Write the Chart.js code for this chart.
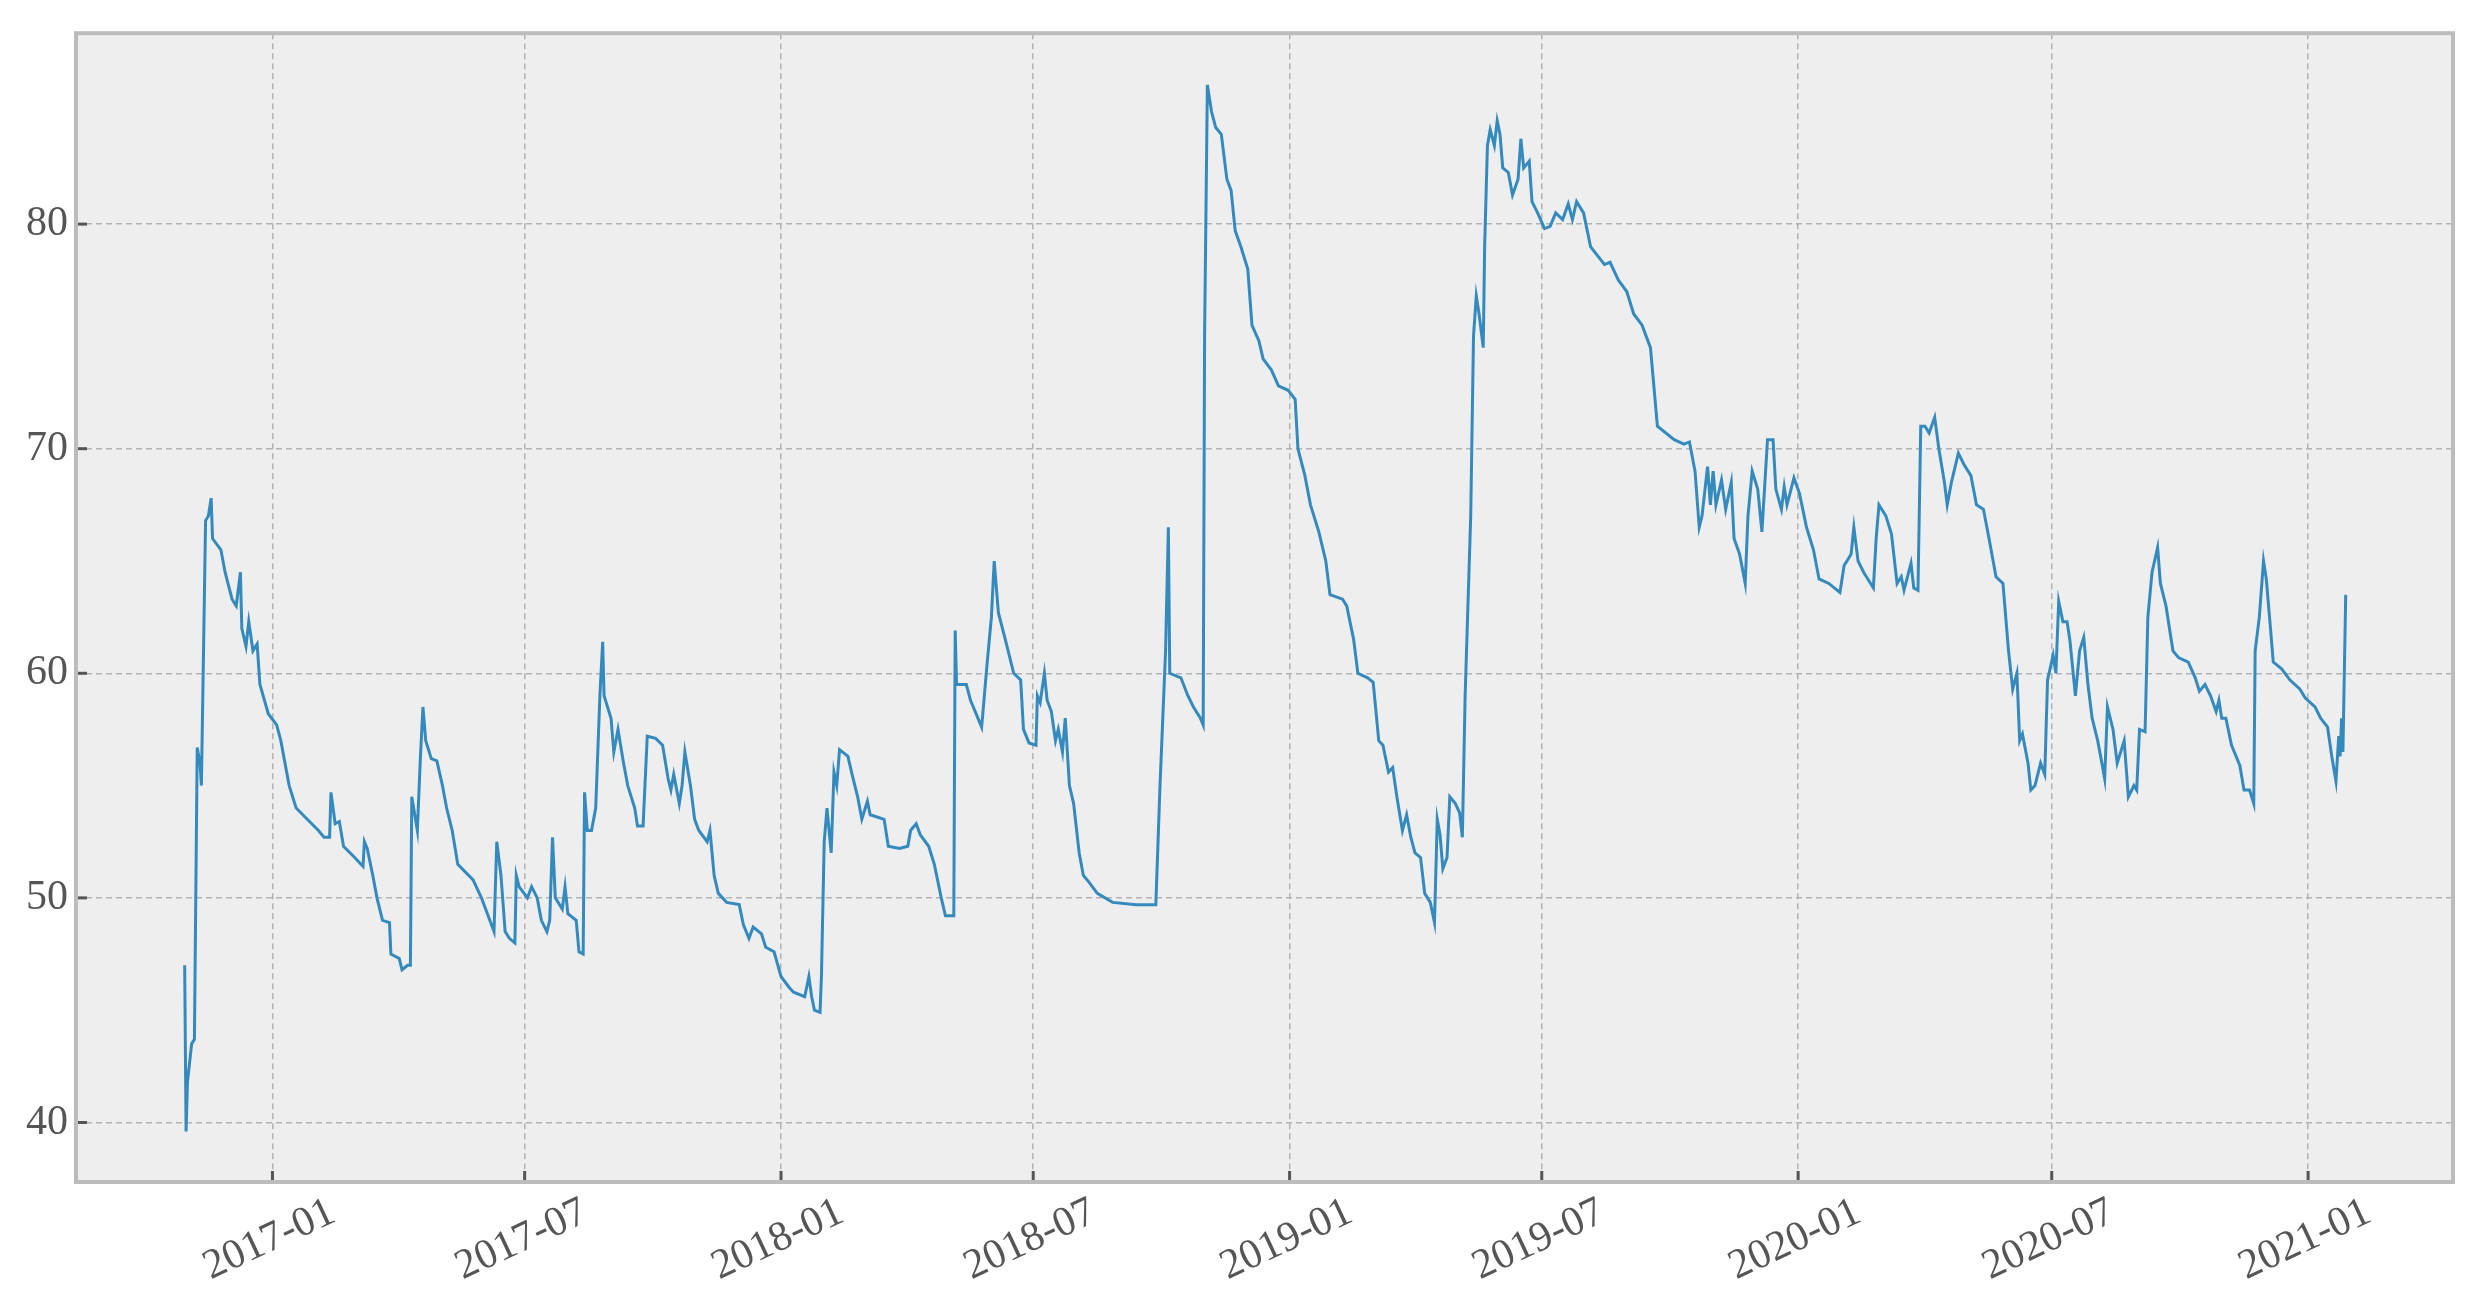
<!DOCTYPE html>
<html>
<head>
<meta charset="utf-8">
<script src="https://cdn.jsdelivr.net/npm/chart.js@4/dist/chart.umd.min.js"></script>
<style>
  html, body { margin: 0; padding: 0; background: #fff; }
  #wrap { width: 2475px; height: 1301px; }
</style>
</head>
<body>
<div id="wrap"><canvas id="chart" width="2475" height="1301"></canvas></div>
<script>
// series start date, then day offsets from it and the values
const startDate = '2016-10-30';
const days = [0,1,2,5,7,9,11,12,15,17,19,20,26,29,34,37,40,41,44,46,49,52,54,60,66,69,75,80,88,96,100,104,105,108,111,114,122,128,129,131,135,138,142,147,148,154,156,160,162,163,167,169,171,173,177,181,185,188,192,196,207,213,219,222,224,227,230,233,237,238,240,246,249,253,256,260,262,264,266,271,273,275,281,283,286,287,289,292,295,298,300,301,306,308,311,315,318,323,325,329,332,338,343,347,349,351,355,357,359,363,366,369,375,377,380,383,389,398,401,405,408,414,417,423,428,434,437,445,448,450,452,456,457,459,461,464,466,468,470,476,479,483,486,490,492,502,505,513,519,521,525,528,534,538,543,546,552,553,554,561,564,572,576,579,581,584,589,595,600,602,606,611,612,614,617,619,622,625,627,630,632,635,638,642,645,649,655,666,683,697,700,704,706,707,715,720,724,729,731,732,734,737,740,744,748,751,754,758,763,766,771,774,780,785,792,797,799,804,808,814,819,822,831,834,839,842,849,853,857,860,864,867,870,874,877,880,883,887,890,894,897,899,901,903,906,908,912,915,917,919,923,925,927,929,932,933,935,937,940,942,944,946,950,953,957,959,961,965,967,971,976,980,984,989,993,996,999,1004,1009,1014,1019,1023,1029,1035,1040,1046,1052,1057,1069,1076,1080,1084,1087,1089,1093,1095,1097,1099,1103,1106,1110,1112,1116,1120,1122,1125,1129,1132,1136,1140,1142,1146,1148,1150,1155,1159,1164,1169,1173,1180,1188,1191,1196,1198,1201,1205,1208,1212,1214,1216,1221,1225,1229,1232,1234,1239,1241,1244,1246,1249,1252,1256,1259,1263,1265,1268,1273,1277,1282,1286,1291,1295,1300,1305,1309,1312,1315,1317,1319,1323,1325,1328,1332,1335,1337,1341,1343,1345,1348,1351,1353,1357,1360,1363,1366,1369,1373,1376,1378,1380,1384,1387,1392,1395,1399,1401,1403,1407,1409,1412,1416,1418,1422,1427,1431,1438,1443,1446,1450,1454,1458,1460,1462,1465,1469,1475,1478,1482,1485,1486,1489,1492,1494,1497,1499,1505,1511,1518,1522,1529,1533,1538,1541,1544,1546,1547,1548,1549,1551];
const values = [47,39.6,41.8,43.5,43.7,56.7,56,55,66.8,67,67.8,66,65.5,64.5,63.3,63,64.5,62,61.2,62.3,61,61.3,59.5,58.2,57.7,57,55,54,53.5,53,52.7,52.7,54.7,53.3,53.4,52.3,51.8,51.4,52.5,52.2,51,50,49,48.9,47.5,47.3,46.8,47,47,54.5,53,56,58.5,57,56.2,56.1,55,54,53,51.5,50.8,50,49,48.5,52.5,51,48.5,48.2,48,51,50.5,50,50.5,50,49,48.5,49,52.7,50,49.5,50.5,49.3,49,47.6,47.5,54.7,53,53,54,59,61.4,59,58,56.5,57.5,56,55,54,53.2,53.2,57.2,57.1,56.8,55.3,54.8,55.5,54.2,55,56.5,55,53.5,53,52.5,53,51,50.2,49.8,49.7,48.8,48.2,48.7,48.4,47.8,47.6,46.5,46,45.8,45.6,46.5,45.6,45,44.9,46.5,52.5,54,52,55.6,55,56.6,56.3,55.5,54.5,53.5,54.3,53.7,53.5,52.3,52.2,52.3,53,53.3,52.8,52.3,51.5,50,49.2,49.2,61.9,59.5,59.5,58.8,57.6,60.5,62.5,65,62.7,61.5,60,59.7,57.5,56.9,56.8,59,58.7,60,58.8,58.3,57,57.5,56.5,58,55,54.2,52,51,50.7,50.2,49.8,49.7,49.7,55,61,66.5,60,59.8,59,58.5,58,57.7,75,86.2,85,84.3,84,82,81.5,79.7,79,78,75.5,74.8,74,73.5,72.8,72.6,72.2,70,68.8,67.5,66.3,65,63.5,63.3,63,61.5,60,59.8,59.6,57,56.8,55.6,55.8,54.5,53,53.7,52.7,52,51.8,50.2,49.8,48.9,53.5,52.8,51.3,51.8,54.5,54.2,53.8,52.7,59,67,75,76.8,76,74.5,79,83.5,84.2,83.5,84.6,84,82.5,82.3,81.3,82,83.8,82.5,82.8,81,80.5,79.8,79.9,80.5,80.2,80.9,80.2,81,80.5,79,78.6,78.2,78.3,77.5,77,76,75.5,74.5,71,70.4,70.2,70.3,69,66.5,67,69.2,67.5,69,67.5,68.6,67.3,68.5,66,65.3,64,67,69,68.2,66.3,70.4,70.4,68.2,67.3,68.3,67.5,68.7,68,66.5,65.5,64.2,64,63.6,64.8,65.3,66.5,65,64.5,64.2,63.8,66,67.5,67,66.2,64,64.3,63.7,64.9,63.8,63.7,71,71,70.7,71.4,70,68.5,67.5,68.5,69.8,69.3,68.8,67.5,67.3,66,64.3,64,61,59.3,60,57,57.3,56,54.8,55,56,55.5,59.7,60.8,60,63.2,62.3,62.3,61.5,59,61,61.6,59.5,58,57,56,55.3,58.5,57.5,56,57,54.5,55,54.8,57.5,57.4,62.5,64.5,65.6,64,63,61,60.7,60.5,59.8,59.2,59.5,59,58.3,58.8,58,58,56.8,55.9,54.8,54.8,54.2,61,62.5,65,64.2,62,60.5,60.2,59.7,59.3,58.9,58.5,58,57.6,56.3,55.2,57.2,56.3,58,56.5,63.5];
const tickDates = ['2017-01','2017-07','2018-01','2018-07','2019-01','2019-07','2020-01','2020-07','2021-01'];
const yTicks = [40,50,60,70,80];

const DAY = 86400000;
const t0 = Date.parse(startDate + 'T00:00:00Z');
const points = days.map((d, i) => ({ x: t0 + d * DAY, y: values[i] }));
const tickMs = tickDates.map(s => Date.parse(s + '-01T00:00:00Z'));

const fontFamily = "Liberation Serif";
const fontSize = 42;

// background, frame, inward tick marks and centred rotated date labels
const plotDeco = {
  id: 'plotDeco',
  beforeDraw(chart) {
    const { ctx, chartArea: a } = chart;
    ctx.save();
    ctx.fillStyle = '#eeeeee';
    ctx.fillRect(a.left, a.top, a.width, a.height);
    ctx.restore();
  },
  afterDraw(chart) {
    const { ctx, chartArea: a, scales } = chart;
    ctx.save();
    ctx.strokeStyle = '#555';
    ctx.lineWidth = 3;
    tickMs.forEach(v => {
      const x = scales.x.getPixelForValue(v);
      ctx.beginPath(); ctx.moveTo(x, a.bottom); ctx.lineTo(x, a.bottom - 11); ctx.stroke();
    });
    yTicks.forEach(v => {
      const y = scales.y.getPixelForValue(v);
      ctx.beginPath(); ctx.moveTo(a.left, y); ctx.lineTo(a.left + 11, y); ctx.stroke();
    });
    ctx.strokeStyle = '#bcbcbc';
    ctx.lineWidth = 4;
    ctx.strokeRect(a.left, a.top, a.width, a.height);

    ctx.fillStyle = '#555';
    ctx.font = fontSize + 'px "' + fontFamily + '", serif';
    ctx.textAlign = 'center';
    ctx.textBaseline = 'middle';
    tickMs.forEach((v, i) => {
      const x = scales.x.getPixelForValue(v);
      ctx.save();
      ctx.translate(x - 3, a.bottom + 58);
      ctx.rotate(-25 * Math.PI / 180);
      ctx.fillText(tickDates[i], 0, 0);
      ctx.restore();
    });
    ctx.restore();
  }
};

new Chart(document.getElementById('chart'), {
  type: 'line',
  data: {
    datasets: [{
      data: points,
      borderColor: '#348ABD',
      borderWidth: 3,
      pointRadius: 0,
      tension: 0,
      fill: false
    }]
  },
  options: {
    responsive: false,
    animation: false,
    parsing: false,
    layout: { padding: { top: 24, right: 22, left: 0, bottom: 0 } },
    plugins: { legend: { display: false }, tooltip: { enabled: false } },
    scales: {
      x: {
        type: 'linear',
        min: t0 - 78 * DAY,
        max: t0 + 1628 * DAY,
        afterBuildTicks: s => { s.ticks = tickMs.map(v => ({ value: v })); },
        afterFit: s => { s.height = 119; },
        ticks: { display: false },
        grid: { color: '#b2b2b2', lineWidth: 1.5, tickLength: 0 },
        border: { display: false, dash: [6, 4] }
      },
      y: {
        min: 37.35,
        max: 88.5,
        afterBuildTicks: s => { s.ticks = yTicks.map(v => ({ value: v })); },
        afterFit: s => { s.width = 76; },
        ticks: { color: '#555', font: { family: fontFamily, size: fontSize }, padding: 8 },
        grid: { color: '#b2b2b2', lineWidth: 1.5, tickLength: 0 },
        border: { display: false, dash: [6, 4] }
      }
    }
  },
  plugins: [plotDeco]
});
</script>
</body>
</html>
